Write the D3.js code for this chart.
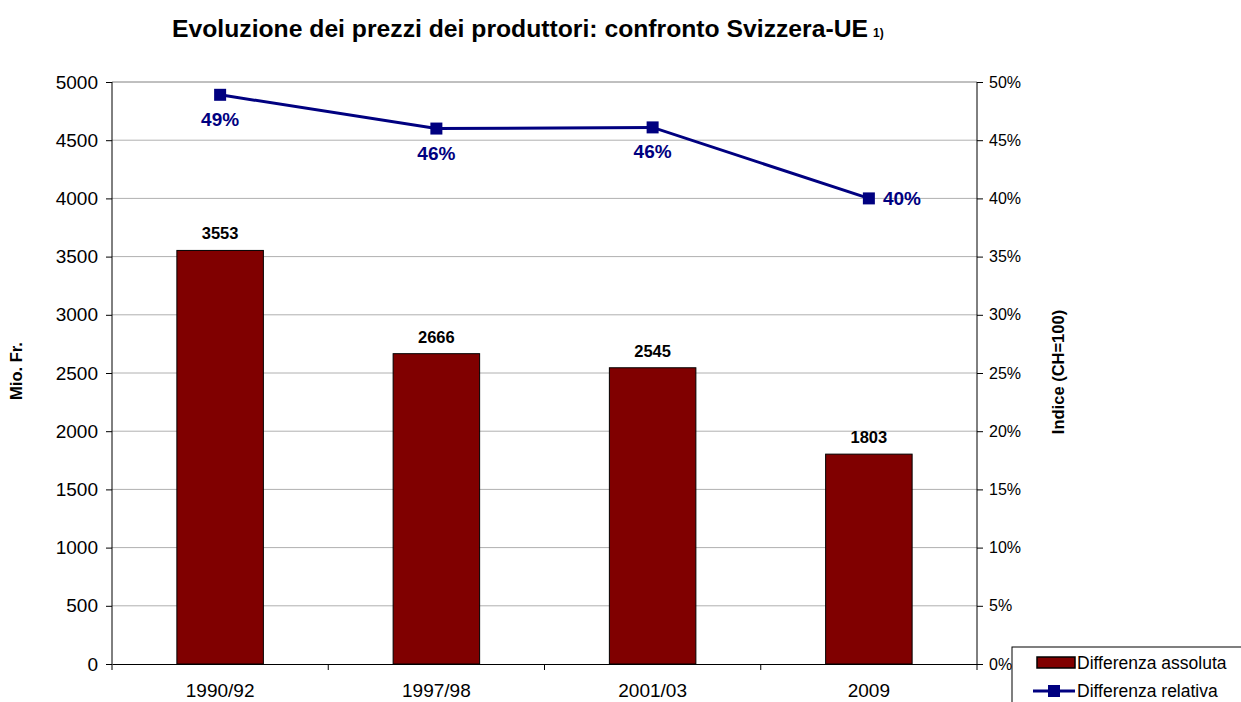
<!DOCTYPE html>
<html lang="en">
<head>
<meta charset="UTF-8">
<title>Evoluzione dei prezzi dei produttori</title>
<style>
  body { margin: 0; background: #fff; }
  svg text { font-family: "Liberation Sans", Arial, sans-serif; }
</style>
</head>
<body>
<div id="chart"></div>
<script src="https://d3js.org/d3.v7.min.js"></script>
<script>
var categories = ["1990/92", "1997/98", "2001/03", "2009"];
var absValues = [3553, 2666, 2545, 1803];      // Mio. Fr.
var relValues = [0.489, 0.460, 0.461, 0.400];  // relative difference
var leftTicks = [0, 500, 1000, 1500, 2000, 2500, 3000, 3500, 4000, 4500, 5000];
var rightTicks = [0, 0.05, 0.10, 0.15, 0.20, 0.25, 0.30, 0.35, 0.40, 0.45, 0.50];
var seriesNames = ["Differenza assoluta", "Differenza relativa"];

var W = 1241, H = 702;
var margin = { top: 82, right: 264, bottom: 38, left: 112 };
var width = W - margin.left - margin.right,
    height = H - margin.top - margin.bottom;

var svg = d3.select("#chart").append("svg")
    .attr("width", W).attr("height", H);

// title (main part + small footnote mark)
svg.append("text")
    .attr("x", 172).attr("y", 37)
    .attr("font-size", 23).attr("font-weight", "bold")
    .attr("textLength", 696).attr("lengthAdjust", "spacingAndGlyphs")
    .text("Evoluzione dei prezzi dei produttori: confronto Svizzera-UE");
svg.append("text")
    .attr("x", 873).attr("y", 37)
    .attr("font-size", 12).attr("font-weight", "bold")
    .text("1)");

var g = svg.append("g").attr("transform", "translate(" + margin.left + "," + margin.top + ")");

var x = d3.scaleBand().domain(categories).range([0, width]);
var yL = d3.scaleLinear().domain([0, 5000]).range([height, 0]);
var yR = d3.scaleLinear().domain([0, 0.5]).range([height, 0]);

// gridlines
g.append("g").selectAll("line").data(leftTicks.slice(1)).enter().append("line")
    .attr("x1", 0).attr("x2", width)
    .attr("y1", function(d) { return yL(d); }).attr("y2", function(d) { return yL(d); })
    .attr("stroke", function(d) { return d === 5000 ? "#808080" : "#b0b0b0"; })
    .attr("stroke-width", 1);

// bars
var barW = x.bandwidth() * 0.4;
g.append("g").selectAll("rect").data(absValues).enter().append("rect")
    .attr("x", function(d, i) { return x(categories[i]) + (x.bandwidth() - barW) / 2; })
    .attr("y", function(d) { return yL(d); })
    .attr("width", barW)
    .attr("height", function(d) { return height - yL(d); })
    .attr("fill", "#800000").attr("stroke", "#000").attr("stroke-width", 1);

g.append("g").selectAll("text").data(absValues).enter().append("text")
    .attr("x", function(d, i) { return x(categories[i]) + x.bandwidth() / 2; })
    .attr("y", function(d) { return yL(d) - 11; })
    .attr("text-anchor", "middle").attr("font-size", 16.5).attr("font-weight", "bold")
    .text(function(d) { return d; });

// axes
var axisL = g.append("g").call(d3.axisLeft(yL).tickValues(leftTicks).tickFormat(d3.format("d")).tickSize(6).tickPadding(8));
var axisR = g.append("g").attr("transform", "translate(" + width + ",0)")
    .call(d3.axisRight(yR).tickValues(rightTicks).tickFormat(d3.format(".0%")).tickSize(6).tickPadding(6));
var axisB = g.append("g").attr("transform", "translate(0," + height + ")")
    .call(d3.axisBottom(x).tickSize(0).tickPadding(20));
axisB.selectAll(".tick").append("line")
    .attr("x1", -x.bandwidth() / 2).attr("x2", -x.bandwidth() / 2)
    .attr("y1", 0).attr("y2", 6).attr("stroke", "#000");
axisB.append("line").attr("x1", width).attr("x2", width).attr("y1", 0).attr("y2", 6).attr("stroke", "#000");

[axisL, axisR, axisB].forEach(function(a) {
  a.select(".domain").attr("stroke", "#000");
  a.selectAll("text").attr("font-size", 19).attr("fill", "#000")
    .attr("font-family", "Liberation Sans, Arial, sans-serif");
});
axisR.selectAll("text").attr("font-size", 16);
axisL.select(".domain").attr("d", "M0,0V" + height);
axisR.select(".domain").attr("d", "M0,0V" + height);

// axis titles
svg.append("text")
    .attr("transform", "translate(22,371) rotate(-90)")
    .attr("text-anchor", "middle").attr("font-size", 16.5).attr("font-weight", "bold")
    .text("Mio. Fr.");
svg.append("text")
    .attr("transform", "translate(1064,372) rotate(-90)")
    .attr("text-anchor", "middle").attr("font-size", 16.5).attr("font-weight", "bold")
    .text("Indice (CH=100)");

// line
var navy = "#000080";
var line = d3.line()
    .x(function(d, i) { return x(categories[i]) + x.bandwidth() / 2; })
    .y(function(d) { return yR(d); });
g.append("path").datum(relValues)
    .attr("d", line).attr("fill", "none").attr("stroke", navy).attr("stroke-width", 3);
g.append("g").selectAll("rect").data(relValues).enter().append("rect")
    .attr("x", function(d, i) { return x(categories[i]) + x.bandwidth() / 2 - 6; })
    .attr("y", function(d) { return yR(d) - 6; })
    .attr("width", 12).attr("height", 12).attr("fill", navy);

g.append("g").selectAll("text").data(relValues).enter().append("text")
    .attr("x", function(d, i) {
      var cx = x(categories[i]) + x.bandwidth() / 2;
      return i === relValues.length - 1 ? cx + 14 : cx;
    })
    .attr("y", function(d, i) { return i === relValues.length - 1 ? yR(d) + 7 : yR(d) + 31; })
    .attr("text-anchor", function(d, i) { return i === relValues.length - 1 ? "start" : "middle"; })
    .attr("font-size", 19).attr("font-weight", "bold").attr("fill", navy)
    .text(function(d) { return d3.format(".0%")(d); });

// legend
var leg = svg.append("g").attr("transform", "translate(1012,647)");
leg.append("rect").attr("x", 0).attr("y", 0).attr("width", 240).attr("height", 70)
    .attr("fill", "#fff").attr("stroke", "#000").attr("stroke-width", 1);
leg.append("rect").attr("x", 25).attr("y", 10).attr("width", 38).attr("height", 11)
    .attr("fill", "#800000").attr("stroke", "#000").attr("stroke-width", 1.5);
leg.append("line").attr("x1", 21).attr("x2", 63).attr("y1", 44).attr("y2", 44)
    .attr("stroke", navy).attr("stroke-width", 3);
leg.append("rect").attr("x", 36).attr("y", 38).attr("width", 12).attr("height", 12).attr("fill", navy);
leg.selectAll("text.lg").data(seriesNames).enter().append("text")
    .attr("x", 65).attr("y", function(d, i) { return 22 + i * 28; })
    .attr("font-size", 17.5).text(function(d) { return d; });
</script>
</body>
</html>
